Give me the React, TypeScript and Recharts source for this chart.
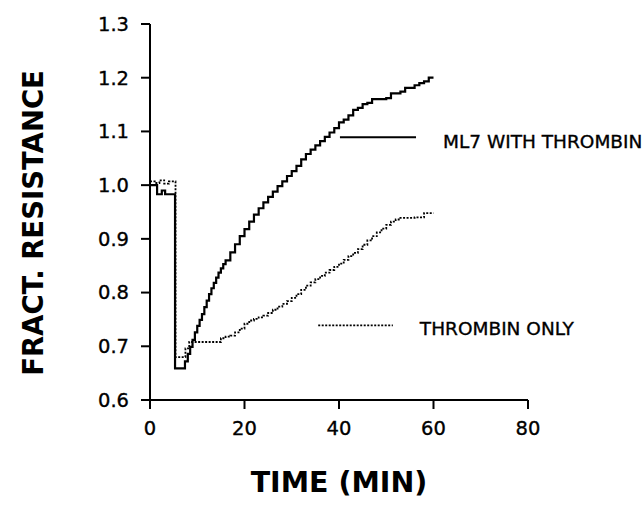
import {
  LineChart,
  Line,
  XAxis,
  YAxis,
  ReferenceLine,
  Label,
} from "recharts";

// ML7 with thrombin (solid)
const mlTime = [
  0, 1.5, 2.5, 3.2, 5.3, 7.4, 8, 8.5, 9, 9.5, 10, 10.5, 11, 11.5, 12, 12.5, 13,
  13.5, 14, 14.5, 15, 15.5, 16, 17, 18, 19, 20, 21, 22, 23, 24, 25, 26, 27, 28,
  29, 30, 31, 32, 33, 34, 35, 36, 37, 38, 39, 40, 41, 42, 43, 44, 45, 46, 47,
  48, 49, 50, 51, 52, 53, 54, 55, 56, 57, 58, 59, 60,
];
const mlValue = [
  1.0, 0.983, 0.99, 0.983, 0.659, 0.672, 0.686, 0.699, 0.712, 0.726, 0.738,
  0.749, 0.76, 0.773, 0.785, 0.797, 0.808, 0.818, 0.828, 0.837, 0.845, 0.853,
  0.86, 0.875, 0.89, 0.905, 0.918, 0.932, 0.945, 0.957, 0.968, 0.978, 0.988,
  0.998, 1.007, 1.017, 1.026, 1.036, 1.048, 1.058, 1.066, 1.074, 1.082, 1.09,
  1.098, 1.106, 1.117, 1.122, 1.13, 1.14, 1.144, 1.151, 1.153, 1.16, 1.16,
  1.16, 1.162, 1.171, 1.171, 1.174, 1.181, 1.181, 1.186, 1.19, 1.193, 1.2,
  1.2,
];

// thrombin only (dotted)
const thTime = [
  0, 1, 2, 3, 4, 5.4, 7.5, 8.3, 15, 16, 17, 18, 19, 20, 21, 22, 23, 24, 25, 26,
  27, 28, 29, 30, 31, 32, 33, 34, 35, 36, 37, 38, 39, 40, 41, 42, 43, 44, 45,
  46, 47, 48, 49, 50, 51, 52, 53, 54, 55, 56, 57, 58, 59, 60,
];
const thValue = [
  1.007, 1.004, 1.009, 1.003, 1.007, 0.68, 0.696, 0.708, 0.715, 0.718, 0.72,
  0.726, 0.733, 0.742, 0.748, 0.751, 0.754, 0.757, 0.762, 0.768, 0.774, 0.779,
  0.784, 0.79, 0.797, 0.805, 0.813, 0.819, 0.825, 0.831, 0.837, 0.842, 0.848,
  0.854, 0.861, 0.868, 0.874, 0.881, 0.889, 0.897, 0.905, 0.912, 0.919, 0.926,
  0.932, 0.936, 0.939, 0.939, 0.939, 0.94, 0.94, 0.948, 0.948, 0.948,
];

const xTicks = [0, 20, 40, 60, 80];
const yTicks = [0.6, 0.7, 0.8, 0.9, 1.0, 1.1, 1.2, 1.3];

const mlData = mlTime.map((t, i) => ({ t, v: mlValue[i] }));
const thData = thTime.map((t, i) => ({ t, v: thValue[i] }));

const FONT = "DejaVu Sans, Verdana, sans-serif";
const tickStyle = {
  fill: "#000",
  fontSize: 19.5,
  fontFamily: FONT,
  stroke: "#000",
  strokeWidth: 0.35,
};

const legendText = (text: string, dy: number) => (props: any) => {
  const vb = props.viewBox || {};
  return (
    <text
      x={vb.x + vb.width + 27}
      y={vb.y + dy}
      fontFamily={FONT}
      fontSize={18.5}
      fill="#000"
      stroke="#000"
      strokeWidth={0.35}
    >
      {text}
    </text>
  );
};

export default function App() {
  return (
    <div style={{ position: "absolute", left: 0, top: 0, background: "#fff" }}>
      <LineChart
        width={644}
        height={506}
        margin={{ top: 24, right: 116, bottom: 0, left: 0 }}
      >
        <XAxis
          dataKey="t"
          type="number"
          domain={[0, 80]}
          ticks={xTicks}
          height={106}
          stroke="#000"
          strokeWidth={2}
          tickSize={9}
          tickMargin={12}
          tick={tickStyle}
          allowDuplicatedCategory={false}
        >
          <Label
            content={(props: any) => {
              const vb = props.viewBox || {};
              return (
                <text
                  x={vb.x + vb.width / 2}
                  y={vb.y + 92}
                  textAnchor="middle"
                  fontFamily={FONT}
                  fontWeight="bold"
                  fontSize={28.5}
                  fill="#000"
                >
                  TIME (MIN)
                </text>
              );
            }}
          />
        </XAxis>
        <YAxis
          type="number"
          domain={[0.6, 1.3]}
          ticks={yTicks}
          width={150}
          stroke="#000"
          strokeWidth={2}
          tickSize={9}
          tickMargin={12}
          tickFormatter={(v: number) => v.toFixed(1)}
          tick={tickStyle}
        >
          <Label
            content={(props: any) => {
              const vb = props.viewBox || {};
              const cx = 43;
              const cy = vb.y + vb.height / 2 + 11;
              return (
                <text
                  x={cx}
                  y={cy}
                  transform={`rotate(-90, ${cx}, ${cy})`}
                  textAnchor="middle"
                  fontFamily={FONT}
                  fontWeight="bold"
                  fontSize={27.5}
                  fill="#000"
                >
                  FRACT. RESISTANCE
                </text>
              );
            }}
          />
        </YAxis>
        <Line
          data={thData}
          dataKey="v"
          type="stepAfter"
          stroke="#000"
          strokeWidth={1.8}
          strokeDasharray="2 1.5"
          dot={false}
          isAnimationActive={false}
        />
        <Line
          data={mlData}
          dataKey="v"
          type="stepAfter"
          stroke="#000"
          strokeWidth={2.2}
          dot={false}
          isAnimationActive={false}
        />
        <ReferenceLine
          segment={[
            { x: 40.2, y: 1.089 },
            { x: 56.3, y: 1.089 },
          ]}
          stroke="#000"
          strokeWidth={2}
          label={legendText("ML7 WITH THROMBIN", 11)}
        />
        <ReferenceLine
          segment={[
            { x: 35.6, y: 0.739 },
            { x: 51.4, y: 0.739 },
          ]}
          stroke="#000"
          strokeWidth={1.8}
          strokeDasharray="2 1.5"
          label={legendText("THROMBIN ONLY", 10)}
        />
      </LineChart>
    </div>
  );
}
